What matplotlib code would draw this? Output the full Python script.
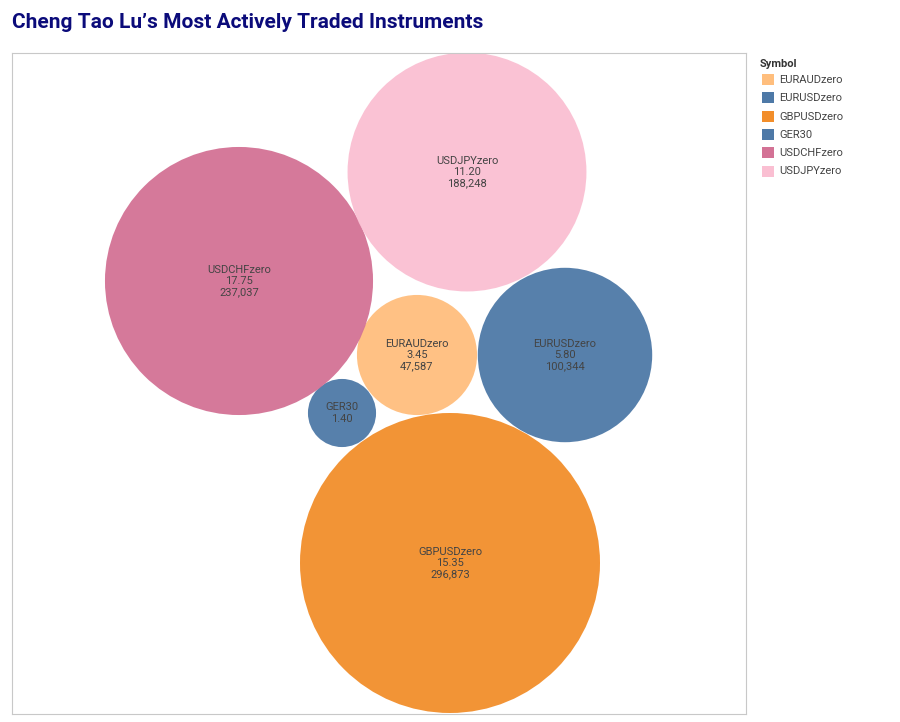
import matplotlib.pyplot as plt
from matplotlib.patches import Circle, Rectangle
import numpy as np

plt.rcParams['font.family'] = ['Roboto', 'DejaVu Sans']

symbols = ['EURAUDzero', 'EURUSDzero', 'GBPUSDzero', 'GER30', 'USDCHFzero', 'USDJPYzero']
lots = [3.45, 5.80, 15.35, 1.40, 17.75, 11.20]
volume = [47587, 100344, 296873, 15300, 237037, 188248]
show_volume = [True, True, True, False, True, True]
colors = ['#ffbe7d', '#4e79a7', '#f28e2b', '#4e79a7', '#d37295', '#fabfd2']

# packed layout (pixel coords of the centres)
centres = [(417, 355), (565, 355), (450, 563), (342, 413), (239, 281), (467, 172)]
max_r = 150

fig = plt.figure(figsize=(9, 7.22), dpi=100)
ax = fig.add_axes([12/900, 8/722, 734/900, 661/722])
ax.set_xlim(12, 746)
ax.set_ylim(714, 53)
ax.set_xticks([])
ax.set_yticks([])
for s in ax.spines.values():
    s.set_color('#c8c8c8')

for i, sym in enumerate(symbols):
    r = max_r * np.sqrt(volume[i] / max(volume))
    ax.add_patch(Circle(centres[i], r, facecolor=colors[i], edgecolor='none', alpha=0.95))
    txt = sym + '\n' + f'{lots[i]:.2f}'
    if show_volume[i]:
        txt += '\n' + f'{volume[i]:,}'
    ax.text(centres[i][0], centres[i][1], txt, ha='center', va='center',
            fontsize=8, color='#444444', linespacing=1.15)

fig.text(12/900, 1 - 22/722, 'Cheng Tao Lu\u2019s Most Actively Traded Instruments',
         fontsize=15, fontweight='bold', color='#0b0b7a', va='center')

fig.text(760/900, 1 - 64/722, 'Symbol', fontsize=8, fontweight='bold', color='#333333', va='center')
for i, sym in enumerate(symbols):
    y = 1 - (80 + i * 18.3) / 722
    fig.patches.append(Rectangle((762/900, y - 5/722), 12/900, 11/722,
                                 transform=fig.transFigure, facecolor=colors[i], figure=fig))
    fig.text(779/900, y, sym, fontsize=8, color='#444444', va='center')

fig.savefig('out.png', dpi=100)
